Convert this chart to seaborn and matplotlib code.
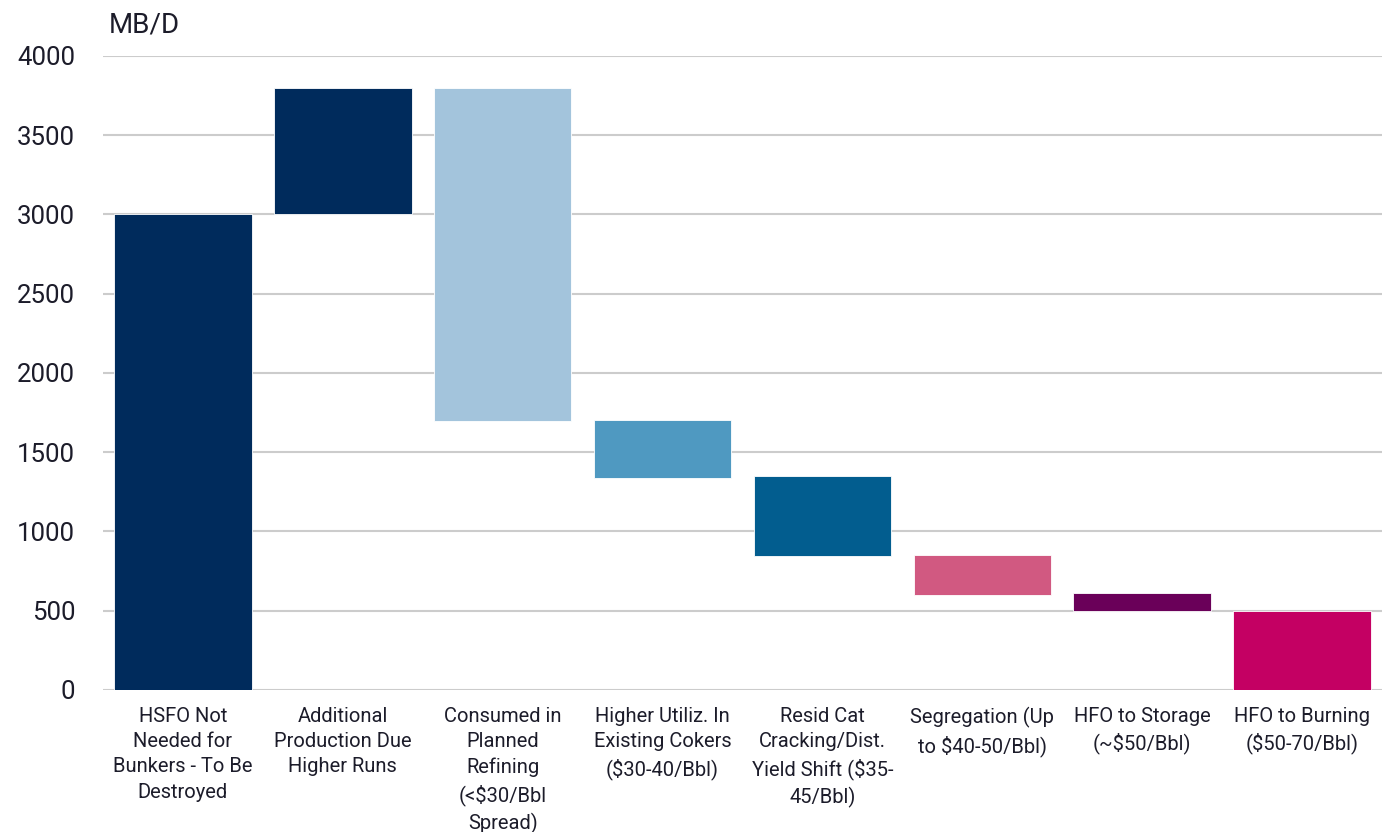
import seaborn as sns
import matplotlib.pyplot as plt
import pandas as pd

# data (MB/D)
labels = [
    "HSFO Not\nNeeded for\nBunkers - To Be\nDestroyed",
    "Additional\nProduction Due\nHigher Runs",
    "Consumed in\nPlanned\nRefining\n(<$30/Bbl\nSpread)",
    "Higher Utiliz. In\nExisting Cokers\n($30-40/Bbl)",
    "Resid Cat\nCracking/Dist.\nYield Shift ($35-\n45/Bbl)",
    "Segregation (Up\nto $40-50/Bbl)",
    "HFO to Storage\n(~$50/Bbl)",
    "HFO to Burning\n($50-70/Bbl)",
]
starts = [0, 3000, 1700, 1340, 845, 600, 500, 0]
ends = [3000, 3800, 3800, 1705, 1350, 850, 610, 500]
colors = ["#002b5c", "#002b5c", "#a3c4dc", "#4f99c1",
          "#025d8f", "#d15981", "#6a0059", "#c40063"]

df = pd.DataFrame({"label": labels, "bottom": starts, "top": ends})
df["size"] = df["top"] - df["bottom"]

sns.set_style("white")
plt.rcParams["font.family"] = ["Roboto", "DejaVu Sans"]

fig = plt.figure(figsize=(13.82, 8.32), dpi=100)
ax = fig.add_axes([0.0745, 0.1707, 0.9255, 0.762])

# grid first so bars sit on top
ax.set_axisbelow(True)
ax.yaxis.grid(True, color="#cccccc", linewidth=1.5)

sns.barplot(data=df, x="label", y="size", bottom=df["bottom"].values,
            order=labels, width=0.86, color=colors[0], ax=ax,
            linewidth=0.6, edgecolor="white")
for patch, c in zip(ax.patches, colors):
    patch.set_facecolor(c)

ax.set_ylim(0, 4000)
ax.set_xlim(-0.5, 7.5)
ax.set_yticks(range(0, 4001, 500))
ax.set_xlabel("")
ax.set_ylabel("")
sns.despine(ax=ax, left=True, bottom=True)
ax.tick_params(axis="y", length=0, pad=20, labelsize=18.5, labelcolor="#1c1c2a")
ax.tick_params(axis="x", length=0, pad=12, labelsize=14.5, labelcolor="#1c1c2a")
for t in ax.get_xticklabels():
    t.set_linespacing(1.42)
    t.set_va("top")

fig.text(0.079, 0.97, "MB/D", fontsize=20, color="#1c1c2a", va="center", ha="left")

fig.savefig("out.png", dpi=100)
